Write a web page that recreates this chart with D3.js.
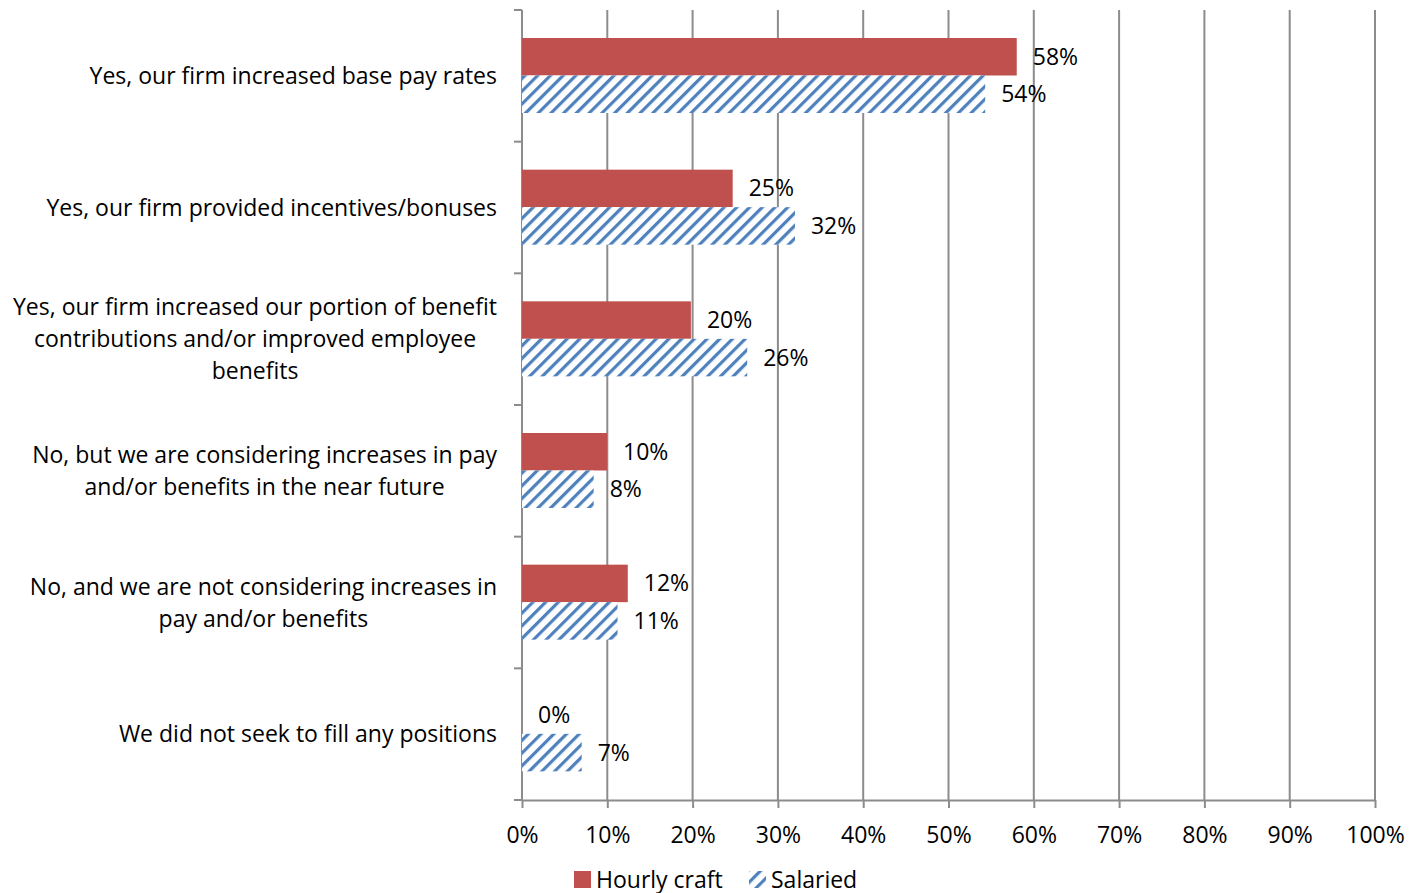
<!DOCTYPE html>
<html>
<head>
<meta charset="utf-8">
<script src="https://cdn.jsdelivr.net/npm/d3@7"></script>
<style>
body { margin: 0; background: #fff; }
text { font-family: "Open Sans", sans-serif; fill: #000; }
</style>
</head>
<body>
<script>
// categories, top to bottom
const categories = [
    ['Yes, our firm increased base pay rates'],
    ['Yes, our firm provided incentives/bonuses'],
    ['Yes, our firm increased our portion of benefit', 'contributions and/or improved employee', 'benefits'],
    ['No, but we are considering increases in pay', 'and/or benefits in the near future'],
    ['No, and we are not considering increases in', 'pay and/or benefits'],
    ['We did not seek to fill any positions']
];
const hourly = [0.58, 0.247, 0.198, 0.0997, 0.124, 0];
const salaried = [0.543, 0.32, 0.264, 0.084, 0.112, 0.07];
const ticks = [0, 0.1, 0.2, 0.3, 0.4, 0.5, 0.6, 0.7, 0.8, 0.9, 1];
const seriesNames = ['Hourly craft', 'Salaried'];

const red = '#C0504D';
const blue = '#4F81BD';
const gray = '#8C8C8C';
const fs = 23;

const svg = d3.select('body')
    .append('svg')
    .attr('width', 1423)
    .attr('height', 893);

// hatch for salaried
const pat = svg.append('defs')
    .append('pattern')
    .attr('id', 'hatch')
    .attr('patternUnits', 'userSpaceOnUse')
    .attr('width', 9)
    .attr('height', 9)
    .attr('patternTransform', 'rotate(45)');
pat.append('rect').attr('width', 9).attr('height', 9).attr('fill', '#fff');
pat.append('rect').attr('x', 0).attr('width', 3.2).attr('height', 9).attr('fill', blue);

const plotL = 522, plotR = 1375, plotT = 10, plotB = 800;

const x = d3.scaleLinear().domain([0, 1]).range([plotL, plotR]);
const y = d3.scaleBand().domain(d3.range(categories.length)).range([plotT, plotB]);
const inner = d3.scaleBand().domain([0, 1]).range([28, 28 + 75]);

// gridlines
svg.append('g')
    .selectAll('line')
    .data(ticks.slice(1))
    .enter()
    .append('line')
    .attr('x1', d => x(d))
    .attr('x2', d => x(d))
    .attr('y1', plotT)
    .attr('y2', plotB)
    .attr('stroke', gray)
    .attr('stroke-width', 2);

// x axis
const xAxis = svg.append('g')
    .attr('transform', `translate(0,${plotB})`)
    .call(d3.axisBottom(x).tickValues(ticks).tickFormat(d3.format('.0%')).tickSize(8).tickSizeOuter(0));
xAxis.select('.domain').attr('stroke', gray).attr('stroke-width', 2);
xAxis.selectAll('.tick line').attr('stroke', gray).attr('stroke-width', 2);
xAxis.selectAll('.tick text')
    .attr('font-size', fs)
    .attr('dy', 0)
    .attr('y', 43)
    .attr('fill', '#000')
    .style('font-family', '"Open Sans", sans-serif');

// left axis with ticks at category boundaries
svg.append('line')
    .attr('x1', plotL).attr('x2', plotL)
    .attr('y1', plotT).attr('y2', plotB)
    .attr('stroke', gray).attr('stroke-width', 2);
svg.append('g')
    .selectAll('line')
    .data(d3.range(categories.length + 1))
    .enter()
    .append('line')
    .attr('x1', plotL - 8)
    .attr('x2', plotL)
    .attr('y1', i => plotT + i * y.step())
    .attr('y2', i => plotT + i * y.step())
    .attr('stroke', gray).attr('stroke-width', 2);

// category labels: block right-aligned at 497, lines centred within it
const lineH = 32;
svg.append('g')
    .selectAll('text')
    .data(categories)
    .enter()
    .append('text')
    .attr('font-size', fs)
    .attr('text-anchor', 'middle')
    .each(function (lines, i) {
        const t = d3.select(this);
        const cy = y(i) + y.bandwidth() / 2;
        lines.forEach((l, j) => {
            t.append('tspan')
                .attr('y', cy + (j - (lines.length - 1) / 2) * lineH + 8)
                .text(l);
        });
        let w = 0;
        t.selectAll('tspan').each(function () { w = Math.max(w, this.getComputedTextLength()); });
        t.selectAll('tspan').attr('x', 497 - w / 2);
    });

// bars
const series = [hourly, salaried];
series.forEach((vals, s) => {
    svg.append('g')
        .selectAll('rect')
        .data(vals)
        .enter()
        .append('rect')
        .attr('x', plotL)
        .attr('y', (d, i) => y(i) + inner(s))
        .attr('width', d => x(d) - plotL)
        .attr('height', inner.bandwidth())
        .attr('fill', s === 0 ? red : 'url(#hatch)');

    svg.append('g')
        .selectAll('text')
        .data(vals)
        .enter()
        .append('text')
        .attr('x', d => x(d) + 16)
        .attr('y', (d, i) => y(i) + inner(s) + inner.bandwidth() / 2 + 8)
        .attr('font-size', fs)
        .text(d => d3.format('.0%')(d));
});

// legend
const legend = svg.append('g');
legend.append('rect').attr('x', 574).attr('y', 871).attr('width', 17).attr('height', 17).attr('fill', red);
legend.append('text').attr('x', 596).attr('y', 888).attr('font-size', fs).text(seriesNames[0]);
legend.append('rect').attr('x', 749).attr('y', 871).attr('width', 17).attr('height', 17).attr('fill', 'url(#hatch)');
legend.append('text').attr('x', 771).attr('y', 888).attr('font-size', fs).text(seriesNames[1]);
</script>
</body>
</html>
